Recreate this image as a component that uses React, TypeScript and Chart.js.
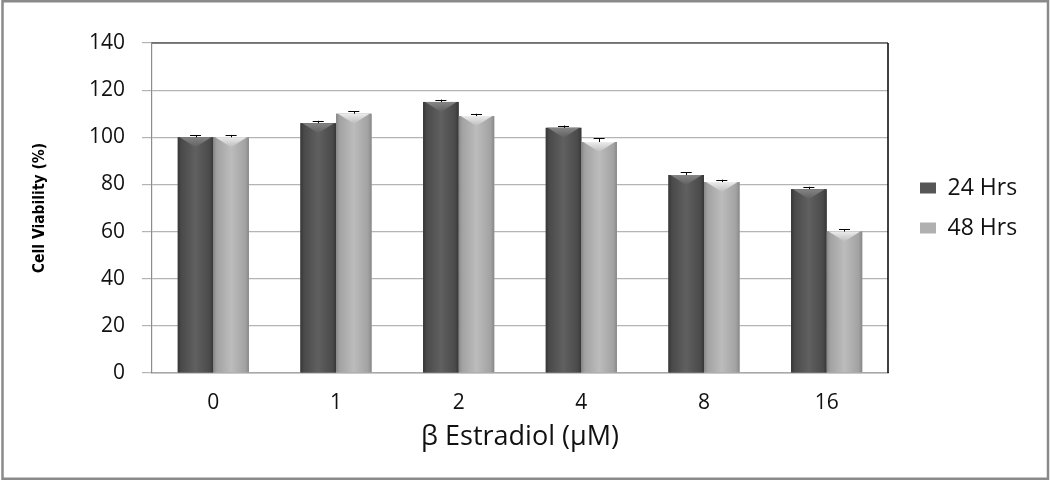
import React, { useEffect, useRef } from 'react';
import { Chart, registerables } from 'chart.js';

Chart.register(...registerables);

const categories = ['0', '1', '2', '4', '8', '16'];
const seriesLabels = ['24 Hrs', '48 Hrs'];
const values24 = [100, 106, 115, 104, 84, 78];
const values48 = [100, 110, 109, 98, 81, 60];
const errors24 = [1, 1, 1, 1, 1.2, 1];
const errors48 = [1, 1, 1, 1.5, 1, 1];
const yTicks = [0, 20, 40, 60, 80, 100, 120, 140];
const xTitle = 'β Estradiol (μM)';
const yTitle = 'Cell Viability (%)';

const palettes = [
  { edge: '#363636', side: '#4a4a4a', mid: '#606060', top: '#858585' },
  { edge: '#888888', side: '#a2a2a2', mid: '#bcbcbc', top: '#ececec' },
];

const decorPlugin = {
  id: 'decor',
  beforeLayout(chart: any) {
    const lg = chart.legend;
    if (lg && !lg.__patched) {
      const orig = lg.fit.bind(lg);
      lg.fit = () => {
        orig();
        lg.width = 162;
      };
      lg.__patched = true;
    }
  },
  afterLayout(chart: any) {
    const lg = chart.legend;
    if (lg) {
      lg.left += 15;
      lg.right += 15;
    }
  },
  afterDatasetsDraw(chart: any) {
    const ctx: CanvasRenderingContext2D = chart.ctx;
    const yScale = chart.scales.y;
    const errs = [errors24, errors48];
    chart.data.datasets.forEach((ds: any, di: number) => {
      const meta = chart.getDatasetMeta(di);
      const p = palettes[di];
      meta.data.forEach((el: any, i: number) => {
        const { x, y, base, width } = el.getProps(['x', 'y', 'base', 'width'], true);
        const l = x - width / 2;
        const r = x + width / 2;
        ctx.save();
        const g = ctx.createLinearGradient(l, 0, r, 0);
        g.addColorStop(0, p.edge);
        g.addColorStop(0.1, p.side);
        g.addColorStop(0.5, p.mid);
        g.addColorStop(0.9, p.side);
        g.addColorStop(1, p.edge);
        ctx.fillStyle = g;
        ctx.fillRect(l, y, width, base - y);
        const bev = 10;
        const tg = ctx.createLinearGradient(0, y, 0, y + bev);
        tg.addColorStop(0, p.top);
        tg.addColorStop(1, p.mid);
        ctx.fillStyle = tg;
        ctx.beginPath();
        ctx.moveTo(l + 2, y);
        ctx.lineTo(r - 2, y);
        ctx.lineTo(x, y + bev);
        ctx.closePath();
        ctx.fill();
        // error bar
        const v = ds.data[i];
        const e = errs[di][i];
        const yTop = yScale.getPixelForValue(v + e);
        ctx.strokeStyle = '#000';
        ctx.lineWidth = 1;
        ctx.beginPath();
        ctx.moveTo(Math.round(x) + 0.5, y);
        ctx.lineTo(Math.round(x) + 0.5, yTop);
        ctx.moveTo(x - 5.5, Math.round(yTop) + 0.5);
        ctx.lineTo(x + 5.5, Math.round(yTop) + 0.5);
        ctx.stroke();
        ctx.restore();
      });
    });
  },
  afterDraw(chart: any) {
    const ctx: CanvasRenderingContext2D = chart.ctx;
    const a = chart.chartArea;
    ctx.save();
    ctx.lineWidth = 1.5;
    ctx.strokeStyle = '#5c5c5c';
    ctx.beginPath();
    ctx.moveTo(a.left, a.top);
    ctx.lineTo(a.right, a.top);
    ctx.stroke();
    ctx.strokeStyle = '#000';
    ctx.beginPath();
    ctx.moveTo(a.right, a.top);
    ctx.lineTo(a.right, a.bottom);
    ctx.stroke();
    ctx.lineWidth = 2.5;
    ctx.strokeStyle = '#8a8a8a';
    ctx.strokeRect(2.5, 1.25, 1045.5, 477.5);
    ctx.restore();
  },
};

export default function App() {
  const ref = useRef<HTMLCanvasElement>(null);
  useEffect(() => {
    document.body.style.margin = '0';
    const chart = new Chart(ref.current as HTMLCanvasElement, {
      type: 'bar',
      data: {
        labels: categories,
        datasets: [
          { label: seriesLabels[0], data: values24, backgroundColor: '#565656', borderWidth: 0 },
          { label: seriesLabels[1], data: values48, backgroundColor: '#b0b0b0', borderWidth: 0 },
        ],
      },
      options: {
        responsive: false,
        animation: false,
        layout: { padding: { top: 43, right: 0, bottom: 0, left: 0 } },
        datasets: { bar: { categoryPercentage: 0.58, barPercentage: 1 } },
        scales: {
          x: {
            grid: { display: false, drawTicks: false },
            border: { color: '#a8a8a8', width: 1.5 },
            ticks: { padding: 17, color: '#111', font: { family: 'Open Sans', size: 21 } },
            title: {
              display: true,
              text: xTitle,
              color: '#111',
              font: { family: 'Open Sans', size: 27 },
              padding: { top: 4, bottom: 27 },
            },
            afterFit: (s: any) => {
              s.height = 108;
            },
          },
          y: {
            min: 0,
            max: 140,
            afterBuildTicks: (s: any) => {
              s.ticks = yTicks.map((v) => ({ value: v }));
            },
            grid: { color: '#b4b4b4', tickLength: 10, lineWidth: 1.2 },
            border: { color: '#8c8c8c', width: 1.2 },
            ticks: { padding: 17, color: '#111', font: { family: 'Open Sans', size: 21 } },
            title: {
              display: true,
              text: yTitle,
              color: '#000',
              font: {
                family: "'Liberation Sans Narrow', 'DejaVu Sans Condensed', 'Open Sans', sans-serif",
                size: 15.5,
                weight: 'bold',
              },
              padding: { top: 31, bottom: 0 },
            },
            afterFit: (s: any) => {
              s.width = 152;
            },
          },
        },
        plugins: {
          legend: {
            position: 'right',
            fullSize: false,
            labels: {
              boxWidth: 16,
              boxHeight: 11,
              padding: 17,
              color: '#111',
              font: { family: 'Open Sans', size: 23 },
            },
          },
          tooltip: { enabled: false },
        },
      } as any,
      plugins: [decorPlugin],
    });
    return () => chart.destroy();
  }, []);
  return (
    <div style={{ width: 1050, height: 481 }}>
      <canvas ref={ref} width={1050} height={481} style={{ display: 'block' }} />
    </div>
  );
}
